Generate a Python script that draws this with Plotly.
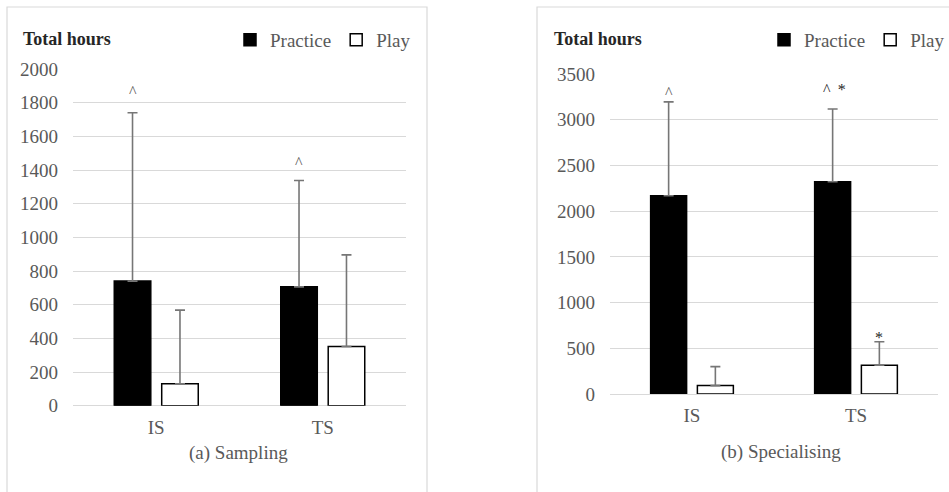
import plotly.graph_objects as go

groups = ["IS", "TS"]
series_names = ["Practice", "Play"]

# (a) Sampling
sampling_practice = [740, 706]
sampling_practice_err = [1000, 632]
sampling_play = [130, 352]
sampling_play_err = [438, 544]

# (b) Specialising
spec_practice = [2168, 2322]
spec_practice_err = [1027, 796]
spec_play = [92, 314]
spec_play_err = [207, 258]

# significance marks: (group index, series index, text, y value of the mark)
sampling_marks = [(0, 0, "^", 1885), (1, 0, "^", 1464)]
spec_marks = [(0, 0, "^", 3326), (1, 0, "^ \u2009*", 3360), (1, 1, "*", 650)]

sampling_ticks = list(range(0, 2001, 200))
spec_ticks = list(range(0, 3501, 500))

FONT = "Liberation Serif"
GRAY = "#595959"
ERR = "#767676"
BARGAP = 0.43
GROUPGAP = 0.23

fig = go.Figure()


def add_panel(practice, practice_err, play, play_err, xa, ya, legend):
    fig.add_trace(go.Bar(
        name=series_names[0], x=groups, y=practice, xaxis=xa, yaxis=ya,
        marker=dict(color="black", line=dict(color="black", width=1.5)),
        error_y=dict(type="data", symmetric=False, array=practice_err,
                     arrayminus=[0] * len(practice), color=ERR,
                     thickness=1.6, width=5),
        legend=legend,
    ))
    fig.add_trace(go.Bar(
        name=series_names[1], x=groups, y=play, xaxis=xa, yaxis=ya,
        marker=dict(color="white", line=dict(color="black", width=1.5)),
        error_y=dict(type="data", symmetric=False, array=play_err,
                     arrayminus=[0] * len(play), color=ERR,
                     thickness=1.6, width=5),
        legend=legend,
    ))


add_panel(sampling_practice, sampling_practice_err, sampling_play,
          sampling_play_err, "x", "y", "legend")
add_panel(spec_practice, spec_practice_err, spec_play, spec_play_err,
          "x2", "y2", "legend2")

slot = (1 - BARGAP) / 2
offsets = [-slot / 2, slot / 2]

annotations = []
for marks, xr, yr in [(sampling_marks, "x", "y"), (spec_marks, "x2", "y2")]:
    for gi, si, txt, yv in marks:
        annotations.append(dict(
            x=gi + offsets[si], y=yv, xref=xr, yref=yr, text=txt,
            showarrow=False, yanchor="middle", yshift=-3,
            xshift=2 if "*" in txt and "^" in txt else 0,
            font=dict(family=FONT, size=16, color=GRAY if txt == "^" else "#262626"),
        ))

# panel titles / captions
for txt, xc, yc in [("<b>Total hours</b>", 21 / 949, 1 - 39 / 492),
                    ("<b>Total hours</b>", 552 / 949, 1 - 39 / 492)]:
    annotations.append(dict(x=xc, y=yc, xref="paper", yref="paper", text=txt,
                            showarrow=False, xanchor="left", yanchor="middle",
                            font=dict(family=FONT, size=18, color="#262626")))
for txt, xc, yc in [("(a) Sampling", 239 / 949, 1 - 453 / 492),
                    ("(b) Specialising", 781 / 949, 1 - 452 / 492)]:
    annotations.append(dict(x=xc, y=yc, xref="paper", yref="paper", text=txt,
                            showarrow=False, xanchor="center", yanchor="middle",
                            font=dict(family=FONT, size=19, color=GRAY)))

shapes = [
    dict(type="rect", xref="paper", yref="paper", x0=7 / 949, x1=427 / 949,
         y0=-0.02, y1=1 - 7 / 492, line=dict(color="#d9d9d9", width=1.2)),
    dict(type="rect", xref="paper", yref="paper", x0=537 / 949, x1=1.02,
         y0=-0.02, y1=1 - 7 / 492, line=dict(color="#d9d9d9", width=1.2)),
]

axis_common = dict(showline=False, ticks="", color=GRAY,
                   tickfont=dict(family=FONT, size=19, color=GRAY))
yaxis_common = dict(showgrid=True, gridcolor="#d9d9d9", gridwidth=1,
                    zeroline=True, zerolinecolor="#d9d9d9", zerolinewidth=1.2,
                    ticks="", showline=False, ticklabelstandoff=14,
                    tickfont=dict(family=FONT, size=19, color=GRAY))

legend_common = dict(orientation="h", font=dict(family=FONT, size=19, color=GRAY),
                     bgcolor="rgba(0,0,0,0)", yanchor="middle", xanchor="right",
                     itemwidth=30, tracegroupgap=0, traceorder="normal")

fig.update_layout(
    width=949, height=492,
    margin=dict(l=0, r=0, t=0, b=0, autoexpand=False),
    paper_bgcolor="white", plot_bgcolor="white",
    barmode="group", bargap=BARGAP, bargroupgap=GROUPGAP,
    xaxis=dict(domain=[73 / 949, 406 / 949], anchor="y", showgrid=False,
               ticklabelstandoff=8, **axis_common),
    yaxis=dict(domain=[1 - 405.7 / 492, 1 - 69 / 492], anchor="x",
               range=[0, 2000], tickvals=sampling_ticks, **yaxis_common),
    xaxis2=dict(domain=[610 / 949, 938 / 949], anchor="y2", showgrid=False,
                ticklabelstandoff=8, **axis_common),
    yaxis2=dict(domain=[1 - 394 / 492, 1 - 74 / 492], anchor="x2",
                range=[0, 3500], tickvals=spec_ticks, **yaxis_common),
    legend=dict(x=416 / 949, y=1 - 40 / 492, **legend_common),
    legend2=dict(x=950 / 949, y=1 - 40 / 492, **legend_common),
    annotations=annotations,
    shapes=shapes,
    showlegend=True,
)

fig.write_html("out.html", config={"displayModeBar": False},
               post_script="document.body.style.margin='0';document.body.style.overflow='hidden';")
